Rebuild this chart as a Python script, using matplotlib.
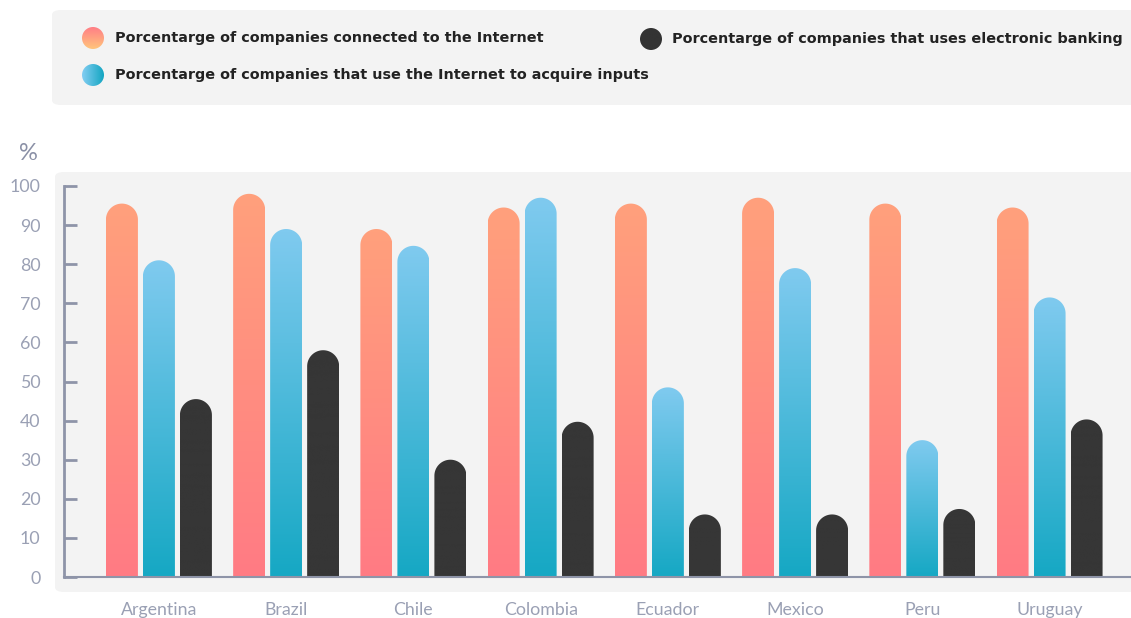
import numpy as np
import matplotlib.pyplot as plt
from matplotlib.patches import Polygon, FancyBboxPatch, Circle
from matplotlib.colors import to_rgb

countries = ["Argentina", "Brazil", "Chile", "Colombia", "Ecuador", "Mexico", "Peru", "Uruguay"]
connected = [95.5, 98, 89, 94.5, 95.5, 97, 95.5, 94.5]
inputs = [81, 89, 84.7, 97, 48.5, 79, 35, 71.5]
banking = [45.5, 58, 30, 39.7, 16, 16, 17.4, 40.3]
yticks = [0, 10, 20, 30, 40, 50, 60, 70, 80, 90, 100]

legend_labels = [
    "Porcentarge of companies connected to the Internet",
    "Porcentarge of companies that use the Internet to acquire inputs",
    "Porcentarge of companies that uses electronic banking",
]

# gradient stops (top, bottom)
orange = ("#ffa07c", "#ff7b84")
blue = ("#7fcaef", "#16a8c4")
dark = ("#363636", "#363636")

W, H = 1131, 618
fig = plt.figure(figsize=(W / 100, H / 100), dpi=100)
fig.patch.set_facecolor("white")

TICK_C = "#9aa0b4"
SPINE_C = "#8e94a8"


def px(x0, y0, w, h):
    """pixel box (from top-left) -> figure fraction rect"""
    return [x0 / W, 1 - (y0 + h) / H, w / W, h / H]


# background panels
for (x0, y0, w, h) in [(52, 10, 1100, 95), (55, 172, 1100, 420)]:
    r = px(x0, y0, w, h)
    fig.patches.append(FancyBboxPatch((r[0], r[1]), r[2], r[3],
                                      boxstyle="round,pad=0,rounding_size=0.008",
                                      transform=fig.transFigure, fc="#f3f3f3",
                                      ec="none", zorder=-5))

ax = fig.add_axes(px(64, 186, W - 64, 577 - 186))
ax.set_facecolor("none")
xmin, xmax = -0.746, 7.64
ax.set_xlim(xmin, xmax)
ax.set_ylim(0, 100)

# pixel scale of data units
ax_w_px = W - 64
ax_h_px = 577 - 186
px_per_x = ax_w_px / (xmax - xmin)
px_per_y = ax_h_px / 100.0

bw = 32 / px_per_x
step = 37 / px_per_x
x = np.arange(len(countries))


def grad_bar(xc, top, cols):
    rx = bw / 2
    ry = rx * px_per_x / px_per_y
    t = np.linspace(0, np.pi, 40)
    arc = np.column_stack([xc + rx * np.cos(t), top - ry + ry * np.sin(t)])
    pts = np.vstack([[xc + rx, 0], arc, [xc - rx, 0]])
    poly = Polygon(pts, closed=True, fc="none", ec="none")
    ax.add_patch(poly)
    c1, c2 = np.array(to_rgb(cols[0])), np.array(to_rgb(cols[1]))
    f = np.linspace(0, 1, 64)[:, None]
    img = (c1 * (1 - f) + c2 * f)[:, None, :]
    im = ax.imshow(img, extent=[xc - rx, xc + rx, 0, top], origin="upper",
                   aspect="auto", interpolation="bilinear", zorder=2)
    im.set_clip_path(poly)


for i in x:
    grad_bar(i - step, connected[i], orange)
    grad_bar(i, inputs[i], blue)
    grad_bar(i + step, banking[i], dark)

ax.set_xlim(xmin, xmax)
ax.set_ylim(0, 100)

for s in ["top", "right"]:
    ax.spines[s].set_visible(False)
ax.spines["left"].set_color(SPINE_C)
ax.spines["left"].set_linewidth(2)
ax.spines["bottom"].set_color(SPINE_C)
ax.spines["bottom"].set_linewidth(1.5)

ax.set_yticks(yticks)
ax.set_yticklabels([str(v) for v in yticks])
ax.tick_params(axis="y", direction="in", length=9.5, width=2, color=SPINE_C,
               labelcolor=TICK_C, labelsize=12.8, pad=17)
ax.set_xticks(x)
ax.set_xticklabels(countries)
ax.tick_params(axis="x", length=0, labelcolor=TICK_C, labelsize=12.8, pad=18)
for lab in ax.get_xticklabels() + ax.get_yticklabels():
    lab.set_fontfamily(["Lato", "DejaVu Sans"])

fig.text(28 / W, 1 - 153 / H, "%", ha="center", va="center", fontsize=17,
         color="#8a90a6", fontfamily=["Lato", "DejaVu Sans"])

# legend (drawn by hand)
def legend_dot(cx, cy, c_a, c_b, horizontal=False):
    r = 11
    rect = px(cx - r, cy - r, 2 * r, 2 * r)
    lax = fig.add_axes(rect)
    lax.set_xlim(-1, 1)
    lax.set_ylim(-1, 1)
    lax.axis("off")
    circ = Circle((0, 0), 1, transform=lax.transData, fc="none", ec="none")
    lax.add_patch(circ)
    a, b = np.array(to_rgb(c_a)), np.array(to_rgb(c_b))
    f = np.linspace(0, 1, 32)
    if horizontal:
        img = (a * (1 - f[:, None]) + b * f[:, None])[None, :, :]
    else:
        img = (a * (1 - f[:, None]) + b * f[:, None])[:, None, :]
    im = lax.imshow(img, extent=[-1, 1, -1, 1], origin="upper", aspect="auto",
                    interpolation="bilinear")
    im.set_clip_path(circ)


legend_dot(93, 38, "#ff7f86", "#ffc47c")
legend_dot(93, 75, "#82cdf2", "#14a6c2", horizontal=True)
legend_dot(651, 39, "#333333", "#333333")

leg_kw = dict(ha="left", va="center", fontsize=10.35, fontweight="bold",
              color="#222222", fontfamily=["DejaVu Sans"])
fig.text(115 / W, 1 - 38 / H, legend_labels[0], **leg_kw)
fig.text(115 / W, 1 - 75 / H, legend_labels[1], **leg_kw)
fig.text(672 / W, 1 - 39 / H, legend_labels[2], **leg_kw)

fig.savefig("out.png", dpi=100)
